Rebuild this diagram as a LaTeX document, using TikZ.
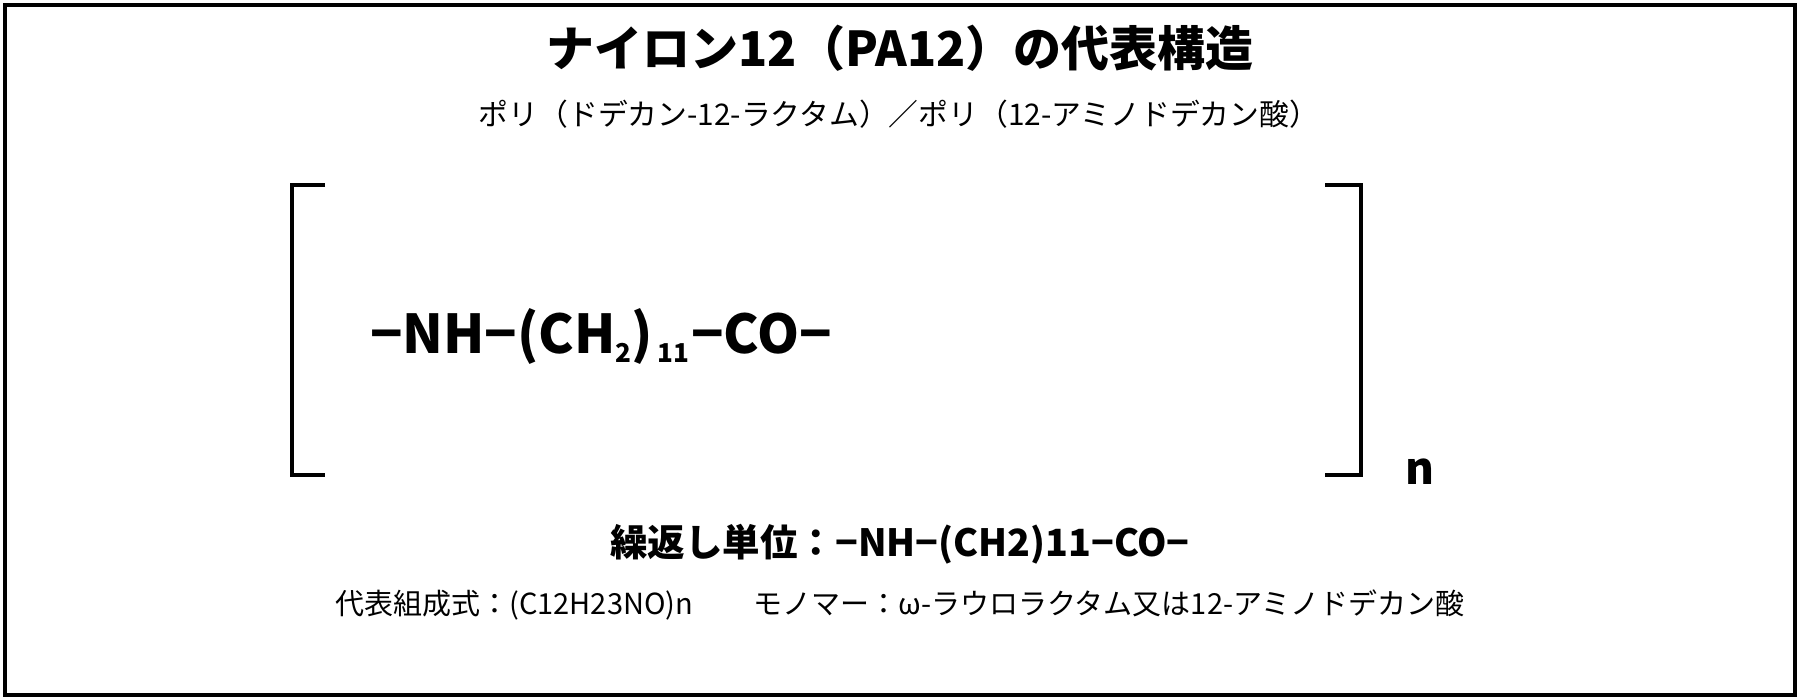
\documentclass[tikz,border=0pt]{standalone}
\usepackage{fontspec}
\setmainfont{Noto Sans CJK JP}
\begin{document}
\begin{tikzpicture}[x=1pt,y=-1pt,
  frame/.style={draw=black,line width=4pt},
  brack/.style={draw=black,line width=4pt,line join=miter},
  txt/.style={inner sep=0pt,outer sep=0pt,anchor=base}]
\useasboundingbox (0,0) rectangle (1800,700);
\draw[frame] (5,5) rectangle (1795,695);
% title and subtitle
\node[txt] (title) at (900,67) {\fontsize{48}{52}\selectfont\bfseries ナイロン12（PA12）の代表構造};
\node[txt] (sub) at (899,126) {\fontsize{29.8}{32}\selectfont ポリ（ドデカン-12-ラクタム）／ポリ（12-アミノドデカン酸）};
% brackets
\coordinate (lt) at (325,185);
\coordinate (lb) at (325,475);
\coordinate (rt) at (1325,185);
\coordinate (rb) at (1325,475);
\draw[brack] (lt) -- (292,185) -- (292,475) -- (lb);
\draw[brack] (rt) -- (1361,185) -- (1361,475) -- (rb);
% formula
\node[txt,anchor=base west] (formula) at (370,354) {\fontsize{53.5}{58}\selectfont\bfseries −NH−(CH\raisebox{-9pt}{\fontsize{26}{28}\selectfont 2})\raisebox{-9pt}{\fontsize{26}{28}\selectfont\,11}\kern2pt−CO−};
\node[txt,anchor=base west] (n) at (1405,485) {\fontsize{44}{48}\selectfont\bfseries n};
% bottom lines
\node[txt] (unit) at (900,556) {\fontsize{37.5}{42}\selectfont\bfseries 繰返し単位：−NH−(CH2)11−CO−};
\node[txt] (comp) at (900,614) {\fontsize{29}{32}\selectfont 代表組成式：(C12H23NO)n\hspace{60pt}モノマー：ω-ラウロラクタム又は12-アミノドデカン酸};
\end{tikzpicture}
\end{document}
